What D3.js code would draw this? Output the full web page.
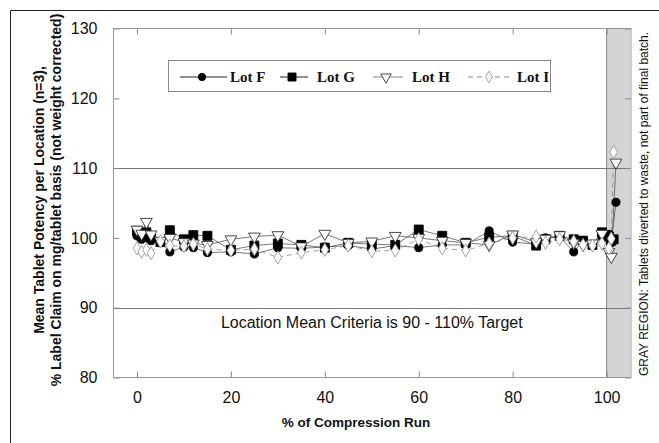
<!DOCTYPE html>
<html><head><meta charset="utf-8">
<script src="https://cdn.jsdelivr.net/npm/d3@7"></script>
<style>body{margin:0;background:#fff}svg{display:block}</style>
</head><body>
<svg id="c" width="659" height="443"></svg>
<script>
const xPos = [0, 1, 2, 3, 5, 7, 10, 12, 15, 20, 25, 30, 35, 40, 45, 50, 55, 60, 65, 70, 75, 80, 85, 87, 90, 93, 95, 97, 99, 100.5, 101];
const lotFx = xPos.concat([102]);
const lotF = [100.3, 99.8, 100.2, 99.6, 99.3, 98.0, 98.7, 98.6, 97.9, 98.0, 97.7, 98.6, 98.5, 98.7, 98.9, 98.4, 98.9, 98.6, 99.0, 99.0, 101.0, 99.4, 99.1, 100.0, 100.2, 98.0, 99.6, 99.1, 100.2, 100.5, 99.3, 105.1];
const lotGx = xPos.concat([101.5]);
const lotG = [101.0, 100.2, 100.8, 100.0, 99.4, 101.1, 99.8, 100.4, 100.3, 98.3, 98.9, 99.2, 99.0, 98.6, 99.3, 99.1, 99.0, 101.2, 100.3, 99.3, 100.1, 100.3, 98.9, 99.8, 100.3, 99.8, 99.6, 99.0, 100.8, 100.2, 99.6, 99.8];
const lotHx = xPos.concat([102]);
const lotH = [101.2, 100.6, 102.3, 100.5, 99.6, 100.0, 99.4, 99.2, 99.0, 99.8, 100.2, 100.4, 98.8, 100.6, 99.3, 99.5, 100.3, 100.0, 99.6, 99.3, 99.0, 100.5, 99.4, 99.9, 100.4, 99.3, 99.0, 99.2, 100.6, 98.0, 97.3, 110.8];
const lotIx = xPos.concat([101.5]);
const lotI = [98.5, 98.0, 98.3, 97.8, 99.5, 98.9, 98.8, 99.1, 98.4, 98.2, 98.4, 97.2, 97.9, 98.3, 98.9, 98.1, 98.2, 99.8, 98.5, 98.2, 99.2, 100.0, 100.2, 99.3, 99.8, 99.5, 99.0, 98.9, 99.2, 98.5, 99.9, 112.3];
const seriesNames = ["Lot F", "Lot G", "Lot H", "Lot I"];
const xTicks = [0, 20, 40, 60, 80, 100];
const yTicks = [80, 90, 100, 110, 120, 130];
const specLimits = [90, 110];
const grayRegion = [100, 105];

const svg = d3.select("#c");
const L = 113.5, R = 631, T = 28.5, B = 377.5;
const x = d3.scaleLinear().domain([-5, 105.2]).range([L, R]);
const y = d3.scaleLinear().domain([80, 130]).range([B, T]);

// outer frame
svg.append("path").attr("d", "M10.5,460 L10.5,10.5 L700,10.5").attr("fill", "none").attr("stroke", "#222").attr("stroke-width", 1);

// gray region
svg.append("rect").attr("x", x(grayRegion[0])).attr("y", T).attr("width", x(grayRegion[1]) - x(grayRegion[0])).attr("height", B - T)
  .attr("fill", "#d4d4d4").attr("stroke", "none");
svg.append("line").attr("x1", x(grayRegion[0])).attr("x2", x(grayRegion[0])).attr("y1", T).attr("y2", B).attr("stroke", "#8a8a8a");

// spec lines
specLimits.forEach(v => {
  svg.append("line").attr("x1", L).attr("x2", R).attr("y1", Math.round(y(v)) + 0.5).attr("y2", Math.round(y(v)) + 0.5).attr("stroke", "#777").attr("stroke-width", 1);
});

// axes with inward ticks
const axStyle = g => { g.select(".domain").remove(); g.selectAll("line").attr("stroke", "#888"); g.selectAll("text").attr("font-family", "Liberation Sans, Arial, sans-serif").attr("font-size", 16).attr("fill", "#111"); };
svg.append("g").attr("transform", `translate(${L},0)`).call(d3.axisLeft(y).tickValues(yTicks).tickSize(-6).tickPadding(16)).call(axStyle);
svg.append("g").attr("transform", `translate(${R},0)`).call(d3.axisRight(y).tickValues(yTicks).tickSize(-6).tickFormat("")).call(axStyle);
svg.append("g").attr("transform", `translate(0,${B})`).call(d3.axisBottom(x).tickValues(xTicks).tickSize(-6).tickPadding(14)).call(axStyle);
svg.append("g").attr("transform", `translate(0,${T})`).call(d3.axisTop(x).tickValues(xTicks).tickSize(-6).tickFormat("")).call(axStyle);
svg.append("rect").attr("x", L).attr("y", T).attr("width", R - L).attr("height", B - T).attr("fill", "none").attr("stroke", "#999");

// criteria text
svg.append("text").attr("x", x(50)).attr("y", 328).attr("text-anchor", "middle").attr("font-family", "Liberation Sans, Arial, sans-serif").attr("font-size", 16).attr("fill", "#111").text("Location Mean Criteria is 90 - 110% Target");

// series
const sym = {
  "Lot F": {type: d3.symbolCircle, size: 52, fill: "#000", stroke: "#000", dash: null},
  "Lot G": {type: d3.symbolSquare, size: 80, fill: "#000", stroke: "#000", dash: null},
  "Lot H": {type: d3.symbolTriangle, size: 60, fill: "#fff", stroke: "#333", dash: null, rot: 180},
  "Lot I": {type: d3.symbolDiamond, size: 50, fill: "#fff", stroke: "#999", dash: "5,4"}
};
const data = [[lotFx, lotF], [lotGx, lotG], [lotHx, lotH], [lotIx, lotI]];
const line = d3.line().x(d => x(d[0])).y(d => y(d[1]));
data.forEach(([xs, vs], i) => {
  const s = sym[seriesNames[i]];
  const pts = xs.map((xv, j) => [xv, vs[j]]);
  svg.append("path").datum(pts).attr("d", line).attr("fill", "none").attr("stroke", i === 3 ? "#888" : "#555").attr("stroke-width", 0.8).attr("stroke-dasharray", s.dash);
});
data.forEach(([xs, vs], i) => {
  const s = sym[seriesNames[i]];
  const pts = xs.map((xv, j) => [xv, vs[j]]);
  svg.append("g").selectAll("path").data(pts).join("path")
    .attr("d", d3.symbol().type(s.type).size(s.size))
    .attr("transform", d => `translate(${x(d[0])},${y(d[1])})` + (s.rot ? ` rotate(${s.rot})` : ""))
    .attr("fill", s.fill).attr("stroke", s.stroke).attr("stroke-width", 0.9);
});

// legend
const lg = svg.append("g");
lg.append("rect").attr("x", 168.5).attr("y", 60.5).attr("width", 382).attr("height", 31).attr("fill", "#fff").attr("stroke", "#888");
const legItems = [
  {x1: 180, x2: 227, mx: 202, tx: 230},
  {x1: 280, x2: 308, mx: 292, tx: 317},
  {x1: 373, x2: 403, mx: 386, tx: 412},
  {x1: 468, x2: 513, mx: 489, tx: 517}
];
legItems.forEach((it, i) => {
  const s = sym[seriesNames[i]];
  const ly = 77;
  lg.append("line").attr("x1", it.x1).attr("x2", it.x2).attr("y1", ly).attr("y2", ly).attr("stroke", i >= 2 ? "#888" : "#222").attr("stroke-width", 1).attr("stroke-dasharray", s.dash);
  lg.append("path").attr("d", d3.symbol().type(s.type).size(s.size * 0.8)).attr("transform", `translate(${it.mx},${ly})` + (s.rot ? " rotate(180)" : ""))
    .attr("fill", s.fill).attr("stroke", s.stroke).attr("stroke-width", 0.9);
  lg.append("text").attr("x", it.tx).attr("y", ly + 5).attr("font-family", "Liberation Serif, Times New Roman, serif").attr("font-weight", "bold").attr("font-size", 15).attr("fill", "#111").text(seriesNames[i]);
});

// axis titles
svg.append("text").attr("x", 356).attr("y", 427).attr("text-anchor", "middle").attr("font-family", "Liberation Sans, Arial, sans-serif").attr("font-weight", "bold").attr("font-size", 13.5).attr("fill", "#111").text("% of Compression Run");
const yt = svg.append("text").attr("transform", "translate(0,200) rotate(-90)").attr("text-anchor", "middle").attr("font-family", "Liberation Sans, Arial, sans-serif").attr("font-weight", "bold").attr("font-size", 14).attr("fill", "#111");
yt.append("tspan").attr("x", 0).attr("y", 44).text("Mean Tablet Potency per Location (n=3),");
yt.append("tspan").attr("x", 0).attr("y", 61).text("% Label Claim on mg/tablet basis (not weight corrected)");
svg.append("text").attr("transform", "translate(648,204) rotate(-90)").attr("text-anchor", "middle").attr("font-family", "Liberation Sans, Arial, sans-serif").attr("font-size", 12).attr("fill", "#111").text("GRAY REGION: Tablets diverted to waste, not part of final batch.");
</script>
</body></html>
